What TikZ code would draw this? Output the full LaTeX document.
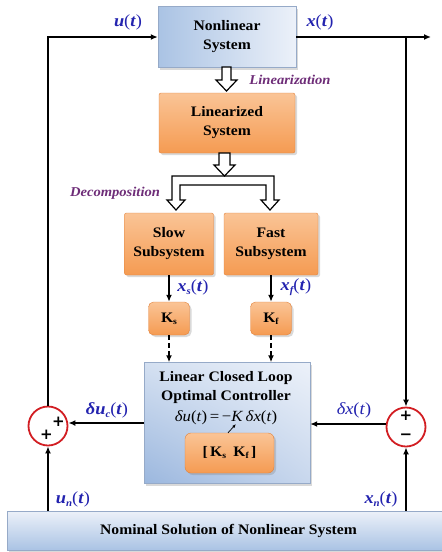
\documentclass[tikz,border=0pt]{standalone}
\usepackage{fontspec}
\setmainfont{Liberation Serif}[FakeStretch=1.08]
\newfontfamily\signfont{DejaVu Sans}
\usetikzlibrary{
	arrows.meta,
	positioning,
	calc,
	shadows,
	shadings
}
\usepackage{xcolor}

\definecolor{sigblue}{RGB}{35,35,175}
\definecolor{notepurple}{RGB}{110,45,120}
\definecolor{sumred}{RGB}{210,30,35}
\definecolor{blueedge}{RGB}{150,170,200}
\definecolor{bluedark}{RGB}{170,195,228}
\definecolor{bluelight}{RGB}{236,241,249}
\definecolor{ctrlul}{RGB}{155,183,222}
\definecolor{ctrlur}{RGB}{212,224,241}
\definecolor{ctrlll}{RGB}{200,215,237}
\definecolor{ctrllr}{RGB}{236,241,249}
\definecolor{orangeedge}{RGB}{225,130,60}
\definecolor{orangetop}{RGB}{250,196,150}
\definecolor{orangebot}{RGB}{245,155,82}

\tikzset{
	boxshadow/.style={drop shadow={shadow xshift=2pt, shadow yshift=-2pt, opacity=.3}},
	bluebox/.style={draw=blueedge, left color=bluedark, right color=bluelight,
		font=\bfseries\fontsize{14.5}{19}\selectfont, align=center, boxshadow},
	orangebox/.style={draw=orangeedge, top color=orangetop, bottom color=orangebot,
		rounded corners=2pt, font=\bfseries\fontsize{14.5}{19}\selectfont, align=center, boxshadow},
	gainbox/.style={orangebox, rounded corners=5pt, minimum width=41pt, minimum height=33pt},
	sumnode/.style={circle, draw=sumred, line width=1.8pt, minimum size=39pt, inner sep=0pt, fill=white},
	sig/.style={text=sigblue, font=\fontsize{17}{17}\selectfont},
	note/.style={text=notepurple, font=\bfseries\itshape\fontsize{13.5}{14}\selectfont},
	sign/.style={font=\signfont\bfseries\fontsize{15}{15}\selectfont, inner sep=0pt},
	wire/.style={line width=1.4pt, -{Latex[length=7pt,width=6pt]}},
	gainwire/.style={wire, line width=1.8pt, dash pattern=on 5pt off 3pt},
	hollow/.style={line width=1.2pt, fill=white, line join=miter}
}

\newcommand{\bi}[1]{\textbf{\textit{#1}}}
\newcommand{\gain}[1]{\textbf{K}\raisebox{-2pt}{\bfseries\fontsize{9}{9}\selectfont #1}}

\begin{document}
\begin{tikzpicture}[x=1pt, y=-1pt]
	
	\useasboundingbox (0,0) rectangle (442,552);
	
	% Blocks
	\node[bluebox, minimum width=138pt, minimum height=61pt] (nls) at (227,37) {Nonlinear\\System};
	\node[orangebox, minimum width=136pt, minimum height=60pt] (lin) at (227,123) {Linearized\\System};
	\node[orangebox, minimum width=89pt, minimum height=62pt] (slow) at (169,244) {Slow\\Subsystem};
	\node[orangebox, minimum width=94pt, minimum height=62pt] (fast) at (271,244) {Fast\\Subsystem};
	\node[gainbox] (ks) at (169,318.5) {\gain{s}};
	\node[gainbox] (kf) at (271,318.5) {\gain{f}};
	
	% Controller
	\node[bluebox, upper left=ctrlul, upper right=ctrlur, lower left=ctrlll, lower right=ctrllr,
		minimum width=166pt, minimum height=121pt] (ctrl) at (227,423) {};
	\node[font=\bfseries\fontsize{14.5}{19}\selectfont, align=center] (ctitle) at (226,388) {Linear Closed Loop\\Optimal Controller};
	\node[font=\fontsize{15.5}{15.5}\selectfont] (eq) at (226,418) {\textit{δu}(\textit{t})\,=\,−\textit{K}\,\textit{δx}(\textit{t})};
	\node[orangebox, rounded corners=6pt, minimum width=89pt, minimum height=40pt] (kmat) at (229.5,453)
		{[\,\gain{s}\enspace\gain{f}\,]};
	\coordinate (kpt) at (236,424);
	
	% Nominal solution
	\node[draw=blueedge, top color=bluelight, bottom color=bluedark, boxshadow,
		minimum width=443pt, minimum height=39pt, font=\bfseries\fontsize{14.5}{19}\selectfont] (nom) at (228.5,530.5)
		{Nominal Solution of Nonlinear System};
	
	% Summing junctions
	\node[sumnode] (suml) at (48,426) {};
	\node[sumnode] (sumr) at (406,427) {};
	\node[sign] (pl1) at (58.5,422) {+};
	\node[sign] (pl2) at (46.5,435) {+};
	\node[sign] (pl3) at (406,416) {+};
	\node[sign] (mi1) at (406,437) {−};
	
	% Hollow arrows
	\draw[hollow] (222,67) -- (231,67) -- (231,80) -- (237,80) -- (226.5,91)
		-- (216,80) -- (222,80) -- cycle;
	\draw[hollow] (172,176) -- (274,176) -- (274,200) -- (279,200) -- (270,210)
		-- (261,200) -- (266,200) -- (266,185) -- (180,185) -- (180,200)
		-- (185,200) -- (176,210) -- (167,200) -- (172,200) -- cycle;
	\draw[hollow] (219,153) -- (230,153) -- (230,165) -- (235,165) -- (224.5,176)
		-- (214,165) -- (219,165) -- cycle;
	\node[note] (linz) at (290,80) {Linearization};
	\node[note] (decomp) at (115,193) {Decomposition};
	
	% Signals
	\coordinate (xout) at (431,0 |- nls.east);
	\draw[wire] (suml.north) |- (nls.west);
	\draw[wire] (nls.east) -- (xout);
	\draw[wire] (sumr |- nls.east) -- (sumr.north);
	\draw[wire] (slow.south) -- (ks.north);
	\draw[wire] (fast.south) -- (kf.north);
	\draw[gainwire] (ks.south) -- (ks |- ctrl.north);
	\draw[gainwire] (kf.south) -- (kf |- ctrl.north);
	\draw[wire] (ctrl.west |- 0,423) -- (suml.east |- 0,423);
	\draw[wire] (sumr.west |- 0,424) -- (ctrl.east |- 0,424);
	\draw[wire] (nom.north -| suml) -- (suml.south);
	\draw[wire] (nom.north -| sumr) -- (sumr.south);
	\draw[line width=.7pt, -{Latex[length=4pt,width=3pt]}] (kmat.north -| 228,0) -- (kpt);
	
	\node[sig] (ulab) at (128,22) {\bi{u}(\bi{t})};
	\node[sig] (xlab) at (320,22) {\bi{x}(\bi{t})};
	\node[sig] (xslab) at (193,287) {\bi{x}\raisebox{-3pt}{\bfseries\itshape\fontsize{10}{10}\selectfont s}(\bi{t})};
	\node[sig] (xflab) at (296,287) {\bi{x}\raisebox{-3pt}{\bfseries\itshape\fontsize{10}{10}\selectfont f}(\bi{t})};
	\node[sig] (dulab) at (107,410) {\bi{δu}\raisebox{-3pt}{\bfseries\itshape\fontsize{10}{10}\selectfont c}(\bi{t})};
	\node[sig] (dxlab) at (354,410) {\textit{δx}(\textit{t})};
	\node[sig] (unlab) at (73,499) {\bi{u}\raisebox{-3pt}{\bfseries\itshape\fontsize{10}{10}\selectfont n}(\bi{t})};
	\node[sig] (xnlab) at (381,499) {\bi{x}\raisebox{-3pt}{\bfseries\itshape\fontsize{10}{10}\selectfont n}(\bi{t})};
	
\end{tikzpicture}
\end{document}
